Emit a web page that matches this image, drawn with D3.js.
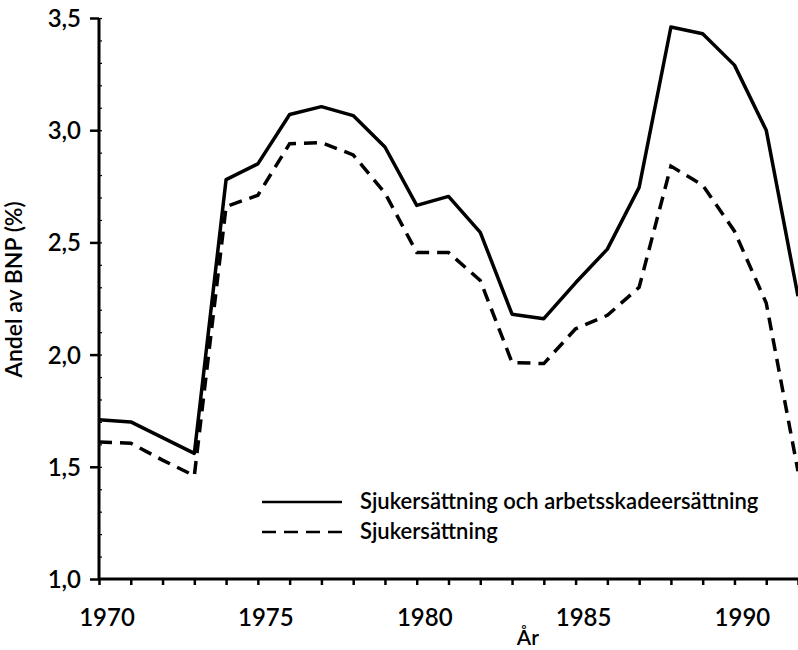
<!DOCTYPE html>
<html>
<head>
<meta charset="utf-8">
<script src="https://cdn.jsdelivr.net/npm/d3@7"></script>
<style>
  body { margin: 0; background: #fff; }
  text { font-family: Lato, "Noto Sans", sans-serif; fill: #000; font-weight: 600; }
</style>
</head>
<body>
<div id="chart"></div>
<script>
// years and the two series (share of GDP, %)
var years = d3.range(1970, 1993);
var sjukOchArbets = [1.71, 1.70, 1.63, 1.56, 2.78, 2.85, 3.07, 3.105, 3.065, 2.925, 2.665, 2.705, 2.545,
  2.18, 2.16, 2.32, 2.47, 2.745, 3.46, 3.43, 3.29, 3.00, 2.26];
var sjuk = [1.61, 1.605, 1.53, 1.46, 2.66, 2.71, 2.94, 2.945, 2.89, 2.72, 2.455, 2.455, 2.33,
  1.965, 1.96, 2.115, 2.175, 2.30, 2.84, 2.755, 2.55, 2.23, 1.48];
var yTicks = [1.0, 1.5, 2.0, 2.5, 3.0, 3.5];
var xTicks = [1970, 1975, 1980, 1985, 1990];
var seriesNames = ["Sjukersättning och arbetsskadeersättning", "Sjukersättning"];

var margin = { top: 18, right: 0, bottom: 71, left: 99 },
    width = 798 - margin.left - margin.right,
    height = 650 - margin.top - margin.bottom;

var svg = d3.select("#chart")
    .append("svg")
    .attr("width", 798)
    .attr("height", 650)
    .append("g")
    .attr("transform", "translate(" + margin.left + "," + margin.top + ")");

var x = d3.scaleLinear().domain([1970, 1992]).range([0, width]);
var y = d3.scaleLinear().domain([1.0, 3.5]).range([height, 0]);

var fmt = function (d) { return d3.format(".1f")(d).replace(".", ","); };

// minor ticks on y, pointing inwards
svg.append("g")
    .call(d3.axisRight(y).tickValues(d3.range(1.0, 3.51, 0.1)).tickSize(3).tickFormat(""))
    .call(function (g) { g.select(".domain").remove(); })
    .selectAll("line").attr("stroke-width", 1.2);

// y axis
var yAxis = svg.append("g")
    .call(d3.axisLeft(y).tickValues(yTicks).tickSize(9).tickPadding(9).tickFormat(fmt));
yAxis.select(".domain").attr("d", "M0," + height + "V0").attr("stroke-width", 3);
yAxis.selectAll("line").attr("stroke-width", 2.5);
yAxis.selectAll("text").style("font-size", "24px").attr("dy", "0.35em");

// x axis with yearly ticks
var xAxis = svg.append("g")
    .attr("transform", "translate(0," + height + ")")
    .call(d3.axisBottom(x).tickValues(years).tickSize(6).tickFormat(""));
xAxis.select(".domain").attr("d", "M0,0H" + width).attr("stroke-width", 3);
xAxis.selectAll("line").attr("stroke-width", 2.5);

svg.append("g")
    .selectAll("text")
    .data(xTicks)
    .enter()
    .append("text")
    .attr("x", function (d) { return x(d) + 8; })
    .attr("y", height + 47)
    .attr("text-anchor", "middle")
    .style("font-size", "24px")
    .text(function (d) { return d; });

// axis titles
svg.append("text")
    .attr("x", x(1983.5))
    .attr("y", height + 66)
    .attr("text-anchor", "middle")
    .style("font-size", "21px")
    .text("År");

svg.append("text")
    .attr("transform", "translate(" + (-77) + "," + y(2.29) + ") rotate(-90)")
    .attr("text-anchor", "middle")
    .style("font-size", "23px")
    .text("Andel av BNP (%)");

// lines
var line = d3.line()
    .x(function (d, i) { return x(years[i]); })
    .y(function (d) { return y(d); });

svg.append("path")
    .datum(sjukOchArbets)
    .attr("d", line)
    .attr("fill", "none")
    .attr("stroke", "#000")
    .attr("stroke-width", 3.5)
    .attr("stroke-linejoin", "round");

svg.append("path")
    .datum(sjuk)
    .attr("d", line)
    .attr("fill", "none")
    .attr("stroke", "#000")
    .attr("stroke-width", 3.5)
    .attr("stroke-dasharray", "13,8");

// legend
var legend = svg.append("g").attr("transform", "translate(" + (262 - margin.left) + "," + (502 - margin.top) + ")");
legend.selectAll("line")
    .data(seriesNames)
    .enter()
    .append("line")
    .attr("x1", 0)
    .attr("x2", 80)
    .attr("y1", function (d, i) { return i * 30; })
    .attr("y2", function (d, i) { return i * 30; })
    .attr("stroke", "#000")
    .attr("stroke-width", 2.5)
    .attr("stroke-dasharray", function (d, i) { return i ? "14,8" : null; });
legend.selectAll("text")
    .data(seriesNames)
    .enter()
    .append("text")
    .attr("x", 98)
    .attr("y", function (d, i) { return i * 30 + 7; })
    .style("font-size", "22px")
    .text(function (d) { return d; });
</script>
</body>
</html>
